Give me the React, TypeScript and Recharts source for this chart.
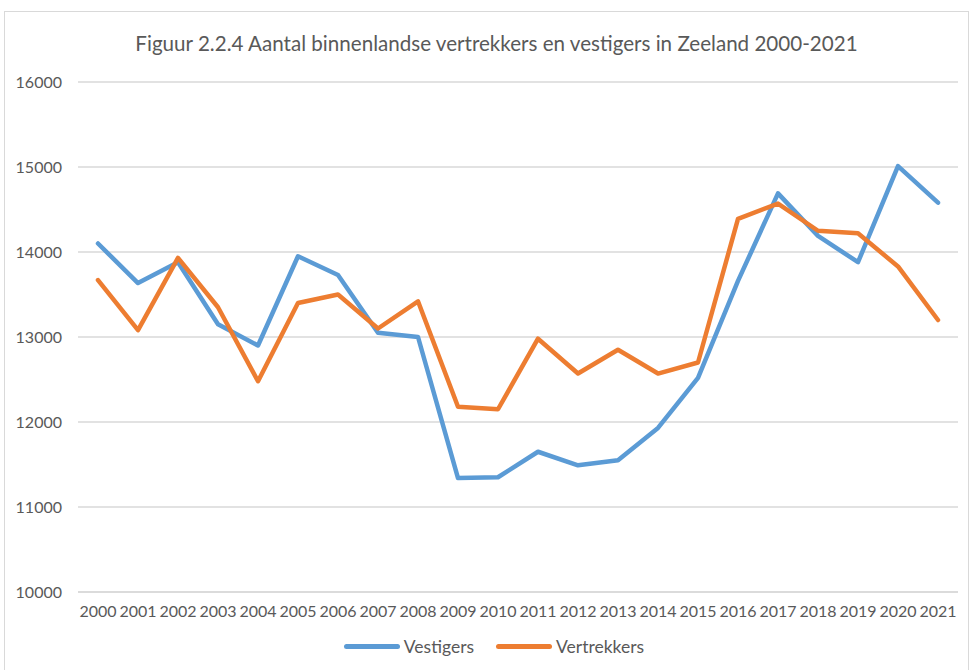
import { CartesianGrid, Legend, Line, LineChart, XAxis, YAxis } from "recharts";

const YEARS = [
  "2000", "2001", "2002", "2003", "2004", "2005", "2006", "2007", "2008", "2009", "2010",
  "2011", "2012", "2013", "2014", "2015", "2016", "2017", "2018", "2019", "2020", "2021",
];

const VESTIGERS = [
  14100, 13635, 13880, 13150, 12900, 13950, 13730, 13050, 13000, 11340, 11350,
  11650, 11490, 11550, 11930, 12520, 13660, 14690, 14190, 13880, 15010, 14580,
];

const VERTREKKERS = [
  13670, 13080, 13930, 13350, 12480, 13400, 13500, 13100, 13420, 12180, 12150,
  12980, 12570, 12850, 12570, 12700, 14390, 14570, 14250, 14220, 13830, 13200,
];

const Y_TICKS = [10000, 11000, 12000, 13000, 14000, 15000, 16000];
const SERIES_ORDER = ["Vestigers", "Vertrekkers"];

const BLUE = "#5B9BD5";
const ORANGE = "#ED7D31";
const TEXT = "#595959";
const FONT = "Lato, 'Open Sans', sans-serif";

const data = YEARS.map((year, i) => ({
  year,
  Vestigers: VESTIGERS[i],
  Vertrekkers: VERTREKKERS[i],
}));

function LegendRow({ payload }: { payload?: { value: string; color: string }[] }) {
  const items = [...(payload ?? [])].sort(
    (a, b) => SERIES_ORDER.indexOf(a.value) - SERIES_ORDER.indexOf(b.value)
  );
  return (
    <div
      style={{
        display: "flex",
        justifyContent: "center",
        gap: 22,
        fontFamily: FONT,
        fontSize: 17.5,
        color: TEXT,
        paddingLeft: 30,
      }}
    >
      {items.map((p) => (
        <div key={p.value} style={{ display: "flex", alignItems: "center", gap: 4 }}>
          <span
            style={{
              display: "inline-block",
              width: 56,
              height: 5,
              borderRadius: 3,
              background: p.color,
            }}
          />
          <span>{p.value}</span>
        </div>
      ))}
    </div>
  );
}

export default function App() {
  return (
    <div style={{ position: "absolute", left: 0, top: 0, width: 973, height: 670, background: "#fff" }}>
      <div
        style={{
          position: "absolute",
          left: 4,
          top: 11,
          width: 965,
          height: 680,
          border: "1px solid #d9d9d9",
          boxSizing: "border-box",
        }}
      />
      <div
        style={{
          position: "absolute",
          left: 0,
          top: 31,
          width: 993,
          textAlign: "center",
          fontFamily: FONT,
          fontSize: 20.6,
          color: TEXT,
        }}
      >
        Figuur 2.2.4 Aantal binnenlandse vertrekkers en vestigers in Zeeland 2000-2021
      </div>
      <div style={{ position: "absolute", left: 0, top: 0 }}>
        <LineChart width={973} height={670} data={data} margin={{ top: 82, right: 15, left: 0, bottom: 14 }}>
          <CartesianGrid vertical={false} stroke="#d9d9d9" strokeWidth={1.5} />
          <XAxis
            dataKey="year"
            axisLine={{ stroke: "#d9d9d9", strokeWidth: 1.5 }}
            tickLine={false}
            tickSize={0}
            tickMargin={14}
            height={44}
            interval={0}
            padding={{ left: 20, right: 20 }}
            tick={{ fill: TEXT, fontSize: 16, fontFamily: FONT }}
          />
          <YAxis
            domain={[10000, 16000]}
            ticks={Y_TICKS}
            axisLine={false}
            tickLine={false}
            tickSize={0}
            tickMargin={16}
            width={78}
            tick={{ fill: TEXT, fontSize: 16, fontFamily: FONT }}
          />
          <Legend verticalAlign="bottom" height={20} content={<LegendRow />} />
          <Line
            type="linear"
            dataKey="Vestigers"
            stroke={BLUE}
            strokeWidth={4.5}
            dot={false}
            strokeLinecap="round"
            strokeLinejoin="round"
            isAnimationActive={false}
          />
          <Line
            type="linear"
            dataKey="Vertrekkers"
            stroke={ORANGE}
            strokeWidth={4.5}
            dot={false}
            strokeLinecap="round"
            strokeLinejoin="round"
            isAnimationActive={false}
          />
        </LineChart>
      </div>
    </div>
  );
}
